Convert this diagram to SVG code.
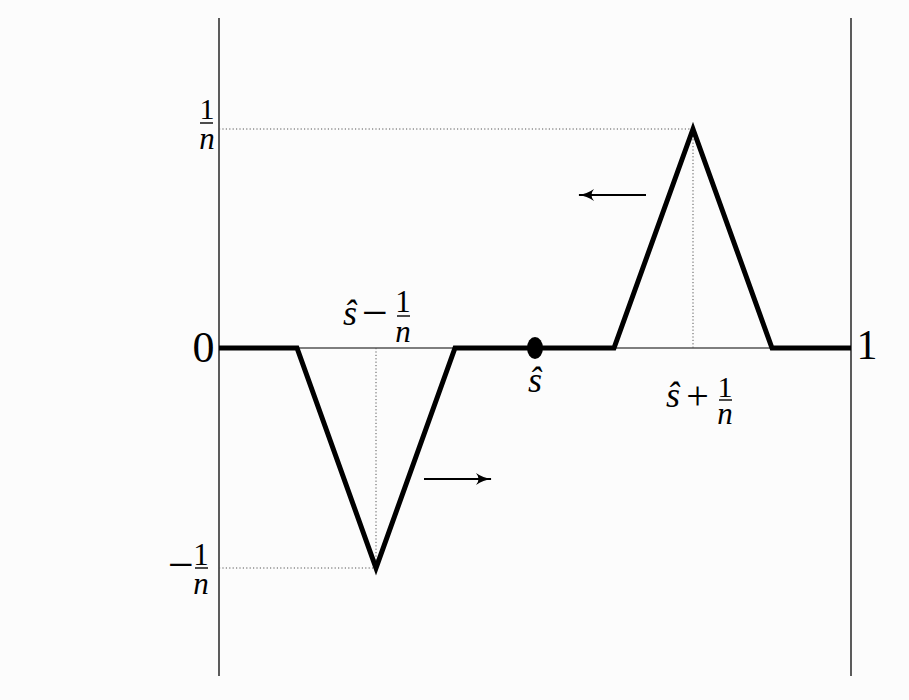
<svg xmlns="http://www.w3.org/2000/svg" width="909" height="700" viewBox="0 0 909 700">
<defs>
<marker id="ah" viewBox="0 0 16 12" refX="15" refY="6" markerWidth="16" markerHeight="12" markerUnits="userSpaceOnUse" orient="auto">
<path d="M0,0 Q7,5 16,6 Q7,7 0,12 Q5,6 0,0 Z" fill="#000"/>
</marker>
<style>
.t{font-family:"Liberation Serif","Times New Roman",serif;fill:#000}
.i{font-style:italic}
.dot{stroke:#555;stroke-width:1;stroke-dasharray:1.2 2.2;fill:none}
.bar{stroke:#000;stroke-width:1.4}
</style>
</defs>
<rect width="909" height="700" fill="#fcfcfc"/>
<g id="axes">
<line x1="219" y1="18" x2="219" y2="676" stroke="#333" stroke-width="1.6"/>
<line x1="851" y1="18" x2="851" y2="676" stroke="#333" stroke-width="1.6"/>
<line x1="219" y1="348" x2="851" y2="348" stroke="#000" stroke-width="1.2"/>
</g>
<g id="guides">
<line class="dot" x1="219" y1="129" x2="693" y2="129"/>
<line class="dot" x1="219" y1="568" x2="376" y2="568"/>
<line class="dot" x1="376" y1="348" x2="376" y2="568"/>
<line class="dot" x1="693" y1="129" x2="693" y2="348"/>
</g>
<g id="curve">
<polyline points="219,348 297,348 376,568 455,348 614,348 693,129 772,348 851,348" fill="none" stroke="#000" stroke-width="5" stroke-linejoin="miter" stroke-miterlimit="10"/>
<ellipse cx="535" cy="348" rx="8" ry="11" fill="#000"/>
</g>
<g id="connectors">
<line x1="424" y1="479" x2="491" y2="479" stroke="#000" stroke-width="2" marker-end="url(#ah)"/>
<line x1="646" y1="195" x2="579" y2="195" stroke="#000" stroke-width="2" marker-end="url(#ah)"/>
</g>
<g id="labels">
<text class="t" x="207" y="119" font-size="30" text-anchor="middle">1</text>
<line class="bar" x1="200" y1="123" x2="213" y2="123"/>
<text class="t i" x="207" y="149" font-size="31" text-anchor="middle">n</text>

<text class="t" x="203.5" y="362" font-size="44" text-anchor="middle">0</text>
<text class="t" x="867" y="359" font-size="42" text-anchor="middle">1</text>

<text class="t i" x="350" y="325" font-size="36" text-anchor="middle">ŝ</text>
<text class="t" x="375" y="328" font-size="46" text-anchor="middle">−</text>
<text class="t" x="403" y="312" font-size="31" text-anchor="middle">1</text>
<line class="bar" x1="397" y1="316" x2="410" y2="316"/>
<text class="t i" x="403" y="342" font-size="31" text-anchor="middle">n</text>

<text class="t i" x="535" y="392" font-size="36" text-anchor="middle">ŝ</text>

<text class="t i" x="673" y="407" font-size="36" text-anchor="middle">ŝ</text>
<text class="t" x="697.5" y="409" font-size="40" text-anchor="middle">+</text>
<text class="t" x="725" y="397" font-size="30" text-anchor="middle">1</text>
<line class="bar" x1="719" y1="400" x2="732" y2="400"/>
<text class="t i" x="725" y="424" font-size="31" text-anchor="middle">n</text>

<text class="t" x="181" y="580" font-size="46" text-anchor="middle">−</text>
<text class="t" x="201" y="565" font-size="31" text-anchor="middle">1</text>
<line class="bar" x1="195" y1="568" x2="208" y2="568"/>
<text class="t i" x="201" y="594" font-size="31" text-anchor="middle">n</text>
</g>
</svg>
